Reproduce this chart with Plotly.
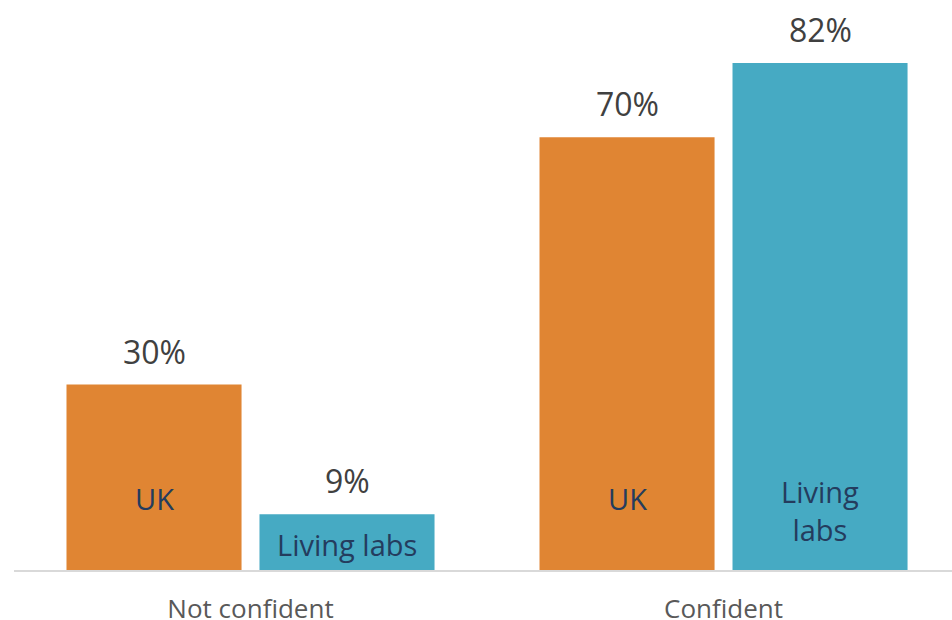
import plotly.graph_objects as go

# Survey answers by group (percent of respondents)
categories = ["Not confident", "Confident"]
series_names = ["UK", "Living labs"]
uk_values = [30, 70]
living_labs_values = [9, 82]

ORANGE = "#E08533"
TEAL = "#46AAC3"
NAVY = "#243C5E"
VALUE_GREY = "#404040"
AXIS_GREY = "#595959"
FONT = "Open Sans"

fig = go.Figure()
fig.add_trace(go.Bar(name=series_names[0], x=categories, y=uk_values,
                     marker=dict(color=ORANGE, line=dict(width=0))))
fig.add_trace(go.Bar(name=series_names[1], x=categories, y=living_labs_values,
                     marker=dict(color=TEAL, line=dict(width=0))))

# Horizontal offset (px) of each series' bar from the category centre
slot_px = 96.5
offsets = [-slot_px, slot_px]

annotations = []
for s, vals in enumerate([uk_values, living_labs_values]):
    for cat, v in zip(categories, vals):
        # value label above each bar
        annotations.append(dict(
            x=cat, y=v, xref="x", yref="y", text=f"{v}%", showarrow=False,
            xshift=offsets[s], yshift=10, yanchor="bottom",
            font=dict(family=FONT, size=32, color=VALUE_GREY)))

# series names written inside the bars
inner = [
    (0, 0, "UK", 72),
    (0, 1, "Living labs", 26),
    (1, 0, "UK", 72),
    (1, 1, "Living<br>labs", 60),
]
for ci, s, txt, lift in inner:
    annotations.append(dict(
        x=categories[ci], y=0, xref="x", yref="y", text=txt, showarrow=False,
        xshift=offsets[s], yshift=lift, yanchor="middle",
        font=dict(family=FONT, size=29, color=NAVY)))

fig.update_layout(
    width=952, height=620,
    margin=dict(l=14, r=0, t=0, b=50),
    paper_bgcolor="white", plot_bgcolor="white",
    barmode="group", bargap=0.184, bargroupgap=0.093,
    showlegend=False,
    annotations=annotations,
    xaxis=dict(type="category", range=[-0.5, 1.483], showgrid=False,
               automargin=False,
               showline=True, linecolor="#D9D9D9", linewidth=2,
               ticks="", ticklabelstandoff=15,
               tickfont=dict(family=FONT, size=26, color=AXIS_GREY)),
    yaxis=dict(range=[0, 92.2], visible=False, showgrid=False, zeroline=False,
               automargin=False),
)

fig.write_html("out.html")
